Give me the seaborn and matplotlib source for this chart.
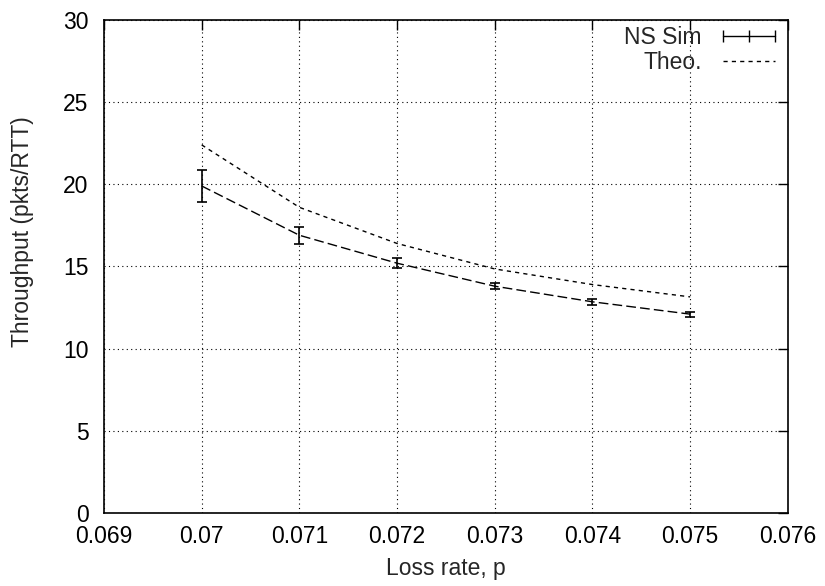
import matplotlib
matplotlib.use('Agg')
import matplotlib.pyplot as plt
import pandas as pd
import seaborn as sns
import numpy as np
from matplotlib.lines import Line2D
from matplotlib.ticker import FuncFormatter

loss_rate = [0.070, 0.071, 0.072, 0.073, 0.074, 0.075]
sim_tput = [19.9, 16.9, 15.2, 13.8, 12.85, 12.1]
sim_err = [1.0, 0.53, 0.3, 0.2, 0.17, 0.15]
theo_tput = [22.4, 18.6, 16.4, 14.85, 13.9, 13.15]

df = pd.DataFrame({'p': loss_rate, 'sim': sim_tput, 'err': sim_err, 'theo': theo_tput})

sns.set_style('white')
plt.rcParams['font.family'] = ['Liberation Sans', 'DejaVu Sans']
fs = 16.5

fig = plt.figure(figsize=(8.25, 5.86), dpi=100)
ax = fig.add_axes([0.126, 0.1246, 0.829, 0.8413])

# simulation: dashed line + error bars
sns.lineplot(x='p', y='sim', data=df, ax=ax, color='black', lw=1,
             linestyle=(0, (7, 3)), legend=False)
ax.errorbar(df['p'], df['sim'], yerr=df['err'], fmt='none', ecolor='black',
            elinewidth=1.2, capsize=3.5, capthick=1.2)
sns.lineplot(x='p', y='theo', data=df, ax=ax, color='black', lw=1,
             linestyle=(0, (3, 3)), legend=False)

# legend proxies (gnuplot-like errorbar sample)
h_sim = Line2D([], [], color='black', lw=1, marker='|', ms=9, mew=1)
h_theo = Line2D([], [], color='black', lw=1, linestyle=(0, (3, 3)))
ax.legend([h_sim, h_theo], ['NS Sim', 'Theo.'], loc='upper right', frameon=False,
          markerfirst=False, handlelength=2.9, handletextpad=0.6,
          borderaxespad=0.05, borderpad=0.2, labelspacing=0.1,
          fontsize=fs, numpoints=3)

ax.set_xlim(0.069, 0.076)
ax.set_ylim(0, 30)
ax.set_xticks(np.arange(0.069, 0.0765, 0.001))
ax.set_yticks(range(0, 31, 5))
ax.xaxis.set_major_formatter(FuncFormatter(lambda v, _: '%g' % round(v, 3)))
ax.grid(True, color='black', linestyle=(0, (1, 3)), lw=0.8)
ax.tick_params(direction='in', length=7, width=1, top=True, right=True,
               labelsize=fs, colors='black')
ax.tick_params(axis='y', pad=11)
ax.tick_params(axis='x', pad=9)
for s in ax.spines.values():
    s.set_color('black')
    s.set_linewidth(1.2)

ax.set_xlabel('Loss rate, p', fontsize=fs, labelpad=6)
ax.set_ylabel('Throughput (pkts/RTT)', fontsize=fs)
ax.yaxis.set_label_coords(-0.102, 0.57)

fig.savefig('out.png', dpi=100)
